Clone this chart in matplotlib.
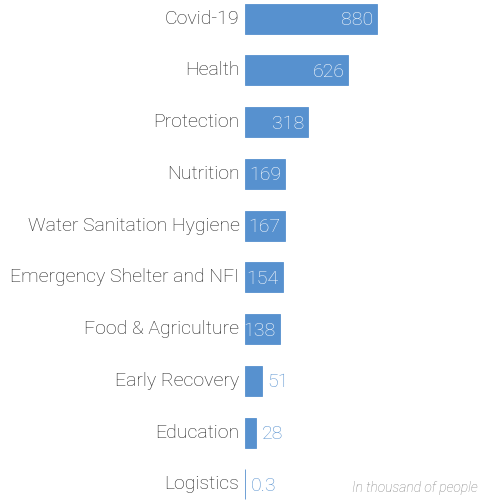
import numpy as np
import matplotlib
matplotlib.use("Agg")
import matplotlib.pyplot as plt

# Sector needs, in thousand of people
sectors = ["Covid-19", "Health", "Protection", "Nutrition",
           "Water Sanitation Hygiene", "Emergency Shelter and NFI",
           "Food & Agriculture", "Early Recovery", "Education", "Logistics"]
values = [880, 626, 318, 169, 167, 154, 138, 51, 28, 0.3]
value_labels = ["880", "626", "318", "169", "167", "154", "138", "51", "28", "0.3"]

BAR = "#5791cf"
TEXT = "#222222"
FONT = ["Roboto", "DejaVu Sans"]

W, H = 483, 500
fig = plt.figure(figsize=(W / 100, H / 100), dpi=100)
ax = fig.add_axes([245 / W, 0.0, 1 - 245 / W, 1.0])

# compressed (power) value axis so that small sectors stay readable
P = 0.72
ax.set_xscale("function", functions=(lambda v: np.power(np.clip(v, 0, None), P),
                                     lambda u: np.power(np.clip(u, 0, None), 1 / P)))
frac_top = 132 / (W - 245)
xmax = max(values) / frac_top ** (1 / P)
ax.set_xlim(0, xmax)

n = len(sectors)
ypos = np.arange(n)
ax.set_ylim(n - 1 + 0.3, -0.36)

ax.barh(ypos, values, height=0.58, color=BAR, edgecolor=BAR, linewidth=0.6)

for y, v, lab, name in zip(ypos, values, value_labels, sectors):
    ax.annotate(name, xy=(0, y), xytext=(-4, 0), textcoords="offset points",
                ha="right", va="center", fontsize=14, color=TEXT,
                family=FONT, fontweight="light", annotation_clip=False)
    if v >= 100:
        ax.annotate(lab, xy=(v, y), xytext=(-3, -1), textcoords="offset points",
                    ha="right", va="center", fontsize=14, color="white",
                    family=FONT, fontweight="light")
    else:
        ax.annotate(lab, xy=(v, y), xytext=(4, -1), textcoords="offset points",
                    ha="left", va="center", fontsize=14, color=BAR,
                    family=FONT, fontweight="light")

ax.axis("off")

fig.text(478 / W, 1 - 488 / H, "In thousand of people", ha="right", va="center",
         fontsize=10, style="italic", color="#808080", family=FONT,
         fontweight="light")

fig.savefig("out.png", dpi=100, facecolor="white")
